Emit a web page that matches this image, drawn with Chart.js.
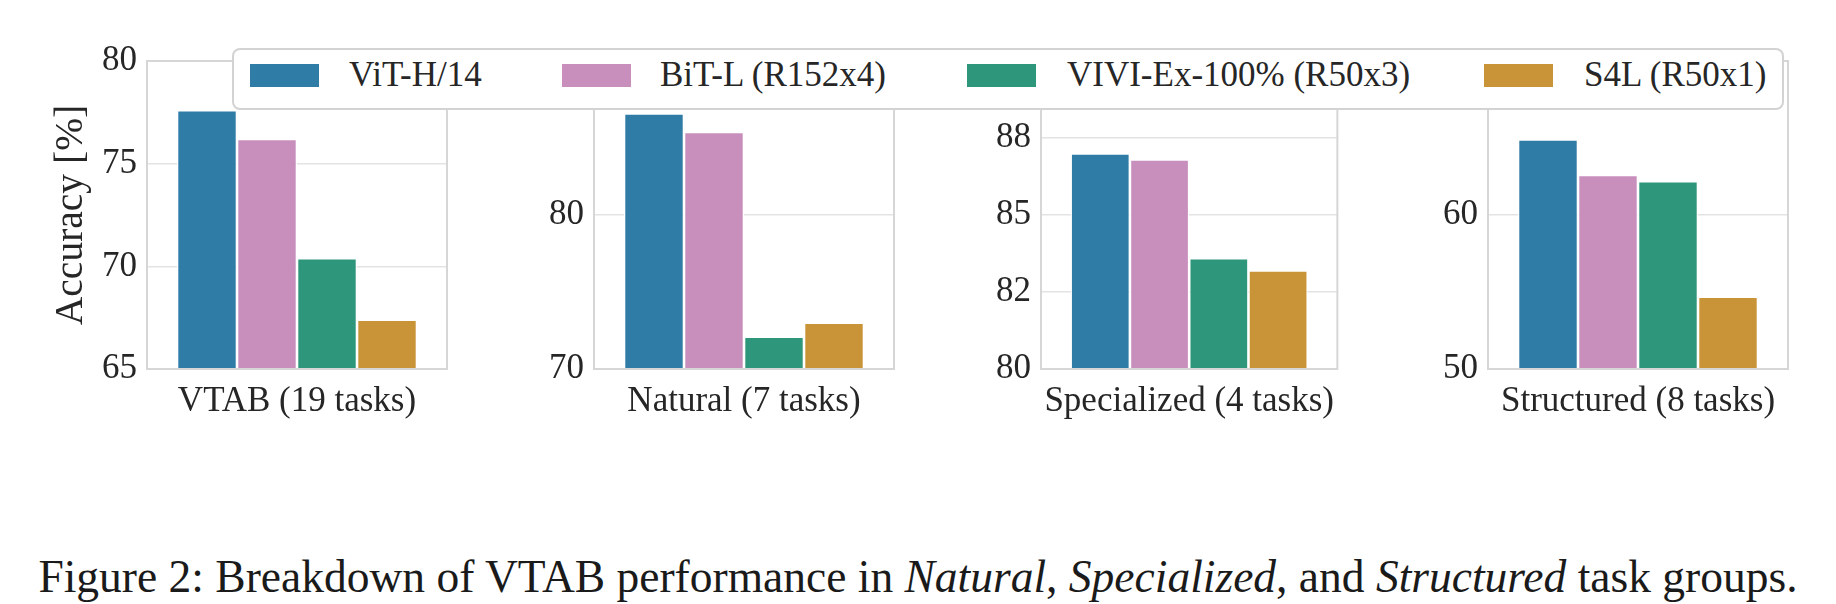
<!DOCTYPE html>
<html>
<head>
<meta charset="utf-8">
<script src="https://cdn.jsdelivr.net/npm/chart.js@4"></script>
<style>
  html, body { margin: 0; padding: 0; background: #fff; }
  body { width: 1836px; height: 604px; position: relative; overflow: hidden; font-family: "Liberation Serif", "Times New Roman", serif; color: #262626; }
  canvas { position: absolute; top: 0; }
  #legend { position: absolute; left: 232px; top: 48px; width: 1548px; height: 58px; border: 2px solid #d3d3d3; border-radius: 8px; background: #fff; z-index: 5; }
  .lg-patch { position: absolute; top: 14px; width: 69px; height: 23px; }
  .lg-text { position: absolute; top: 4px; font-size: 35px; line-height: 42px; white-space: nowrap; color: #262626; }
  #caption { position: absolute; left: 0; width: 1836px; top: 551px; text-align: center; font-size: 45.5px; line-height: 52px; color: #1a1a1a; white-space: nowrap; }
</style>
</head>
<body>
<div id="legend"></div>
<div id="caption">Figure 2: Breakdown of VTAB performance in <i>Natural</i>, <i>Specialized</i>, and <i>Structured</i> task groups.</div>
<script>
// ---- data ----
const categories = ["VTAB (19 tasks)", "Natural (7 tasks)", "Specialized (4 tasks)", "Structured (8 tasks)"];
const seriesNames = ["ViT-H/14", "BiT-L (R152x4)", "VIVI-Ex-100% (R50x3)", "S4L (R50x1)"];
const vitH14 = [77.6, 86.6, 87.0, 64.9];
const bitL = [76.2, 85.4, 86.8, 62.6];
const vivi = [70.4, 72.1, 83.6, 62.2];
const s4l = [67.4, 73.0, 83.2, 54.7];
const yMins = [65, 70, 80, 50];
const yMaxs = [80, 90, 90, 70];
const yTickValues = [[65, 70, 75, 80], [70, 80], [80, 82.5, 85, 87.5], [50, 60]];
const yTickLabels = [["65", "70", "75", "80"], ["70", "80"], ["80", "82", "85", "88"], ["50", "60"]];
const yTitle = "Accuracy [%]";

// ---- style / layout ----
const colors = ["#2f7ca6", "#c88fbd", "#2e967a", "#c99337"];
const panelLefts = [147, 594, 1041, 1488];
const axisW = 110, plotW = 300, rightPad = 10, canvasH = 440, plotTop = 61, plotBottom = 369;
const legendPatchX = [16, 328, 733, 1250];
const legendTextX = [115, 426, 833, 1350];
const FONT = "'Liberation Serif', 'Times New Roman', serif";
const seriesData = [vitH14, bitL, vivi, s4l];

// legend
const lg = document.getElementById('legend');
seriesNames.forEach((n, i) => {
  const p = document.createElement('div');
  p.className = 'lg-patch'; p.style.left = legendPatchX[i] + 'px'; p.style.background = colors[i];
  const t = document.createElement('div');
  t.className = 'lg-text'; t.style.left = legendTextX[i] + 'px'; t.textContent = n;
  lg.appendChild(p); lg.appendChild(t);
});

const framePlugin = {
  id: 'frame',
  afterDatasetsDraw(chart) {
    const { ctx, chartArea: a } = chart;
    ctx.save();
    ctx.strokeStyle = '#d6d6d6';
    ctx.lineWidth = 2;
    ctx.strokeRect(a.left, a.top, a.right - a.left, a.bottom - a.top);
    ctx.restore();
  }
};

categories.forEach((cat, k) => {
  const cv = document.createElement('canvas');
  const W = axisW + plotW + rightPad;
  cv.width = W; cv.height = canvasH;
  cv.style.width = W + 'px'; cv.style.height = canvasH + 'px';
  cv.style.left = (panelLefts[k] - axisW) + 'px';
  document.body.appendChild(cv);
  new Chart(cv.getContext('2d'), {
    type: 'bar',
    data: {
      labels: [cat],
      datasets: seriesNames.map((n, i) => ({
        label: n,
        data: [seriesData[i][k]],
        backgroundColor: colors[i],
        borderColor: '#ffffff',
        borderWidth: 1.3,
        borderSkipped: false,
        categoryPercentage: 0.8,
        barPercentage: 1.0
      }))
    },
    options: {
      responsive: false,
      animation: false,
      devicePixelRatio: 1,
      layout: { padding: { top: plotTop, left: 0, right: rightPad, bottom: 0 } },
      plugins: { legend: { display: false }, tooltip: { enabled: false } },
      scales: {
        x: {
          type: 'category',
          offset: true,
          grid: { display: false, drawTicks: false },
          border: { display: false },
          ticks: { font: { family: FONT, size: 35 }, color: '#262626', padding: 12, maxRotation: 0 },
          afterFit: (s) => { s.height = canvasH - plotBottom; }
        },
        y: {
          type: 'linear',
          min: yMins[k], max: yMaxs[k],
          afterBuildTicks: (s) => { s.ticks = yTickValues[k].map(v => ({ value: v })); },
          ticks: {
            font: { family: FONT, size: 35 }, color: '#262626', padding: 10,
            callback: (v, i) => yTickLabels[k][i]
          },
          grid: { color: '#e3e3e3', lineWidth: 1.5, drawTicks: false },
          border: { display: false },
          title: k === 0 ? { display: true, text: yTitle, font: { family: FONT, size: 39.5 }, color: '#262626', padding: { top: 11, bottom: 0 } } : { display: false },
          afterFit: (s) => { s.width = axisW; }
        }
      }
    },
    plugins: [framePlugin]
  });
});
</script>
</body>
</html>
